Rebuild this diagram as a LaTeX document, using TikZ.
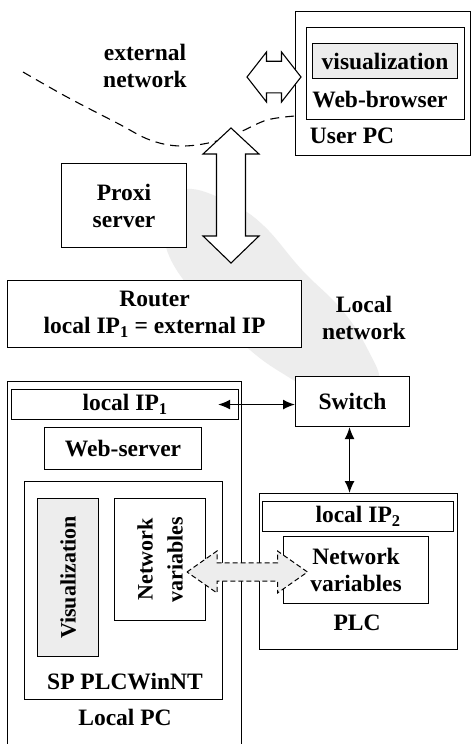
\documentclass[tikz,border=0pt]{standalone}
\usepackage{fontspec}
\setmainfont{Liberation Serif}[BoldFont={Liberation Serif Bold}]
\usetikzlibrary{arrows.meta,calc}
\definecolor{paleshade}{HTML}{EDEDED}
\begin{document}
\begin{tikzpicture}[x=1pt,y=-1pt,
  box/.style={draw, line width=1.1pt, fill=white, inner sep=0pt, anchor=north west},
  lbl/.style={font=\bfseries\fontsize{23.5}{27}\selectfont, align=center, inner sep=0pt},
  vlbl/.style={font=\bfseries\fontsize{22}{30}\selectfont, align=center, inner sep=0pt, rotate=90},
  link/.style={line width=1.5pt, {Latex[length=12pt,width=10pt]}-{Latex[length=12pt,width=10pt]}},
  hollow/.style={draw, line width=1.1pt, fill=white, line join=miter},
  ghost/.style={draw, line width=1pt, fill=paleshade, dash pattern=on 5pt off 3pt}]
\clip (0,0) rectangle (472,744);
\fill[white] (0,0) rectangle (472,744);

% local network area
\fill[paleshade] plot[smooth cycle, tension=0.7] coordinates {
  (192,189) (232,204) (264,226) (302,270) (342,310) (368,350) (380,385)
  (365,418) (330,400) (290,378) (250,350) (205,305) (172,262) (165,228) (174,200)};

% border between external and local network
\draw[line width=1.1pt, dash pattern=on 9pt off 6pt] plot[smooth, tension=0.6] coordinates {
  (23,72) (67,97) (117,123) (150,140) (180,146) (213,142) (240,132) (267,120) (295,116)};

% user PC
\node[box, minimum width=175pt, minimum height=144pt] (userpc) at (295,11) {};
\node[box, minimum width=158pt, minimum height=92pt] (browser) at (306,27) {};
\node[box, fill=paleshade, minimum width=145pt, minimum height=35pt, lbl] (vis) at (312,43) {visualization};
\node[lbl] (browsertxt) at (380,100) {Web-browser};
\node[lbl] (userpctxt) at (352,136) {User PC};

\node[lbl] (exttxt) at (145,66) {external\\network};

% proxy and router
\node[box, lbl, minimum width=125pt, minimum height=84pt] (proxy) at (61,163) {Proxi\\server};
\node[box, lbl, minimum width=294pt, minimum height=67pt] (router) at (7,280)
  {Router\\local IP\textsubscript{1} = external IP};
\node[lbl] (localtxt) at (364,318) {Local\\network};

% switch
\node[box, lbl, minimum width=114pt, minimum height=50pt] (switch) at (295,376) {Switch};

% local PC
\node[box, minimum width=234pt, minimum height=420pt] (localpc) at (7,381) {};
\node[box, lbl, minimum width=227pt, minimum height=30pt] (ip1) at (11,389) {local IP\textsubscript{1}};
\node[box, lbl, minimum width=157pt, minimum height=42pt] (webserver) at (44,427) {Web-server};
\node[box, minimum width=198pt, minimum height=218pt] (plcwin) at (24,481) {};
\node[box, fill=paleshade, minimum width=61pt, minimum height=158pt] (visual) at (37,498) {};
\node[vlbl] (visualtxt) at (visual.center) {Visualization};
\node[box, minimum width=91pt, minimum height=122pt] (netvarL) at (114,498) {};
\node[vlbl] (netvarLtxt) at (netvarL.center) {Network\\variables};
\node[lbl] (plcwintxt) at (125,682) {SP PLCWinNT};
\node[lbl] (localpctxt) at (125,717) {Local PC};

% PLC
\node[box, minimum width=198pt, minimum height=156pt] (plc) at (259,493) {};
\node[box, lbl, minimum width=191pt, minimum height=30pt] (ip2) at (262,501) {local IP\textsubscript{2}};
\node[box, lbl, minimum width=145pt, minimum height=67pt] (netvarR) at (283,536) {Network\\variables};
\node[lbl] (plctxt) at (357,623) {PLC};

% wired links
\draw[link] ([xshift=-21pt]ip1.east) -- (ip1.east -| switch.west);
\draw[link] ([xshift=-3pt]switch.south) -- ([xshift=-3pt]switch.south |- plc.north);

% hollow data-flow arrows
\coordinate (htl) at (247,77);
\coordinate (htr) at (301,77);
\draw[hollow] (htl) -- ++(19.5,-25) -- ++(0,9.2) -- ++(15,0) -- ++(0,-9.2) -- (htr)
  -- ++(-19.5,25) -- ++(0,-9.2) -- ++(-15,0) -- ++(0,9.2) -- cycle;

\coordinate (vtt) at (231,128);
\coordinate (vtb) at (231,263);
\draw[hollow] (vtt) -- ++(28,26) -- ++(-13.5,0) -- ++(0,82) -- ++(13.5,0) -- (vtb)
  -- ++(-28,-27) -- ++(13.5,0) -- ++(0,-82) -- ++(-13.5,0) -- cycle;

% exchange of network variables
\coordinate (gtl) at (187,572);
\coordinate (gtr) at (307.5,572);
\draw[ghost] (gtl) -- ++(30,-21) -- ++(0,11.8) -- ++(60.5,0) -- ++(0,-11.8) -- (gtr)
  -- ++(-30,21) -- ++(0,-11.8) -- ++(-60.5,0) -- ++(0,11.8) -- cycle;
\end{tikzpicture}
\end{document}
